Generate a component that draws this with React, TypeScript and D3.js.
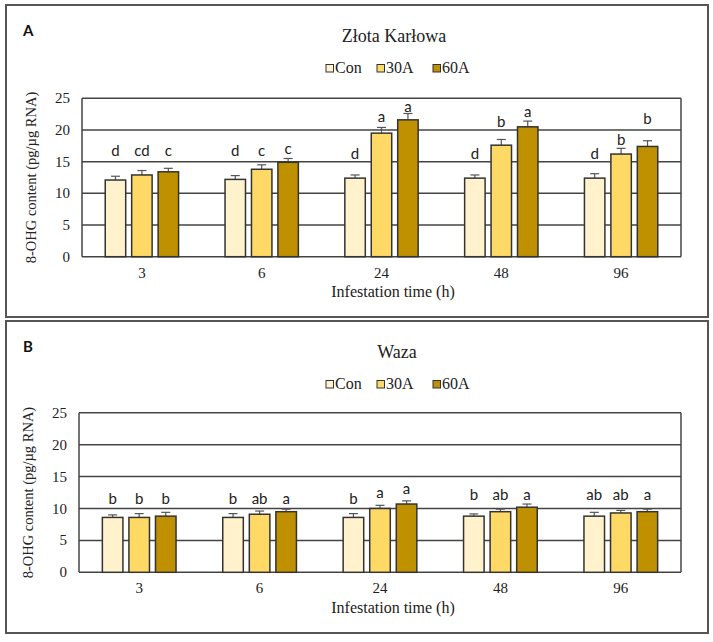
import React from "react";
import * as d3 from "d3";

const groups = ["3", "6", "24", "48", "96"];
const series = ["Con", "30A", "60A"];
const yTicks = [0, 5, 10, 15, 20, 25];
const colors = ["#FFF2CC", "#FFD966", "#BF9000"];

// Panel A – Złota Karłowa
const zkCon = [12.1, 12.2, 12.4, 12.4, 12.4];
const zk30A = [12.9, 13.8, 19.5, 17.6, 16.2];
const zk60A = [13.4, 14.9, 21.6, 20.5, 17.4];
const zkConSE = [0.6, 0.6, 0.5, 0.5, 0.7];
const zk30ASE = [0.7, 0.7, 0.9, 0.9, 0.9];
const zk60ASE = [0.55, 0.6, 1.0, 0.9, 0.9];
const zkConLet = ["d", "d", "d", "d", "d"];
const zk30ALet = ["cd", "c", "a", "b", "b"];
const zk60ALet = ["c", "c", "a", "a", "b"];
const zkConLetY = [15.9, 15.9, 15.4, 15.4, 15.4];
const zk30ALetY = [15.9, 15.9, 21.2, 20.4, 17.6];
const zk60ALetY = [15.9, 16.2, 22.9, 22.0, 20.9];

// Panel B – Waza
const wzCon = [8.6, 8.6, 8.6, 8.8, 8.8];
const wz30A = [8.6, 9.1, 10.0, 9.5, 9.3];
const wz60A = [8.8, 9.5, 10.7, 10.2, 9.5];
const wzConSE = [0.4, 0.6, 0.6, 0.35, 0.6];
const wz30ASE = [0.6, 0.5, 0.5, 0.4, 0.4];
const wz60ASE = [0.6, 0.4, 0.5, 0.5, 0.4];
const wzConLet = ["b", "b", "b", "b", "ab"];
const wz30ALet = ["b", "ab", "a", "ab", "ab"];
const wz60ALet = ["b", "a", "a", "a", "a"];
const wzConLetY = [10.7, 10.7, 10.7, 11.4, 11.4];
const wz30ALetY = [10.7, 10.7, 11.6, 11.4, 11.4];
const wz60ALetY = [10.7, 10.7, 12.3, 11.4, 11.4];

const SERIF = "'Liberation Serif', 'DejaVu Serif', serif";
const SANS = "Lato, 'Liberation Sans', sans-serif";

type PanelProps = {
  tag: string;
  title: string;
  titleX: number;
  top: number;
  plotLeft: number;
  plotTop: number;
  plotBottom: number;
  values: number[][];
  ses: number[][];
  letters: string[][];
  letterY: number[][];
};

function Panel(p: PanelProps) {
  const left = p.plotLeft;
  const right = 681;
  const x0 = d3
    .scaleBand<string>()
    .domain(groups)
    .range([left, right])
    .paddingInner(0.388)
    .paddingOuter(0.194);
  const x1 = d3
    .scaleBand<string>()
    .domain(series)
    .range([0, x0.bandwidth()])
    .paddingInner(0.226);
  const y = d3.scaleLinear().domain([0, 25]).range([p.plotBottom, p.plotTop]);
  const bw = x1.bandwidth();
  const legendX = [326, 377, 433];
  const T = p.top;
  return (
    <g>
      <rect x={6} y={T} width={702} height={312} fill="#fff" stroke="#555" strokeWidth={2} />
      <text x={23} y={T + 31} fontFamily={SANS} fontWeight={700} fontSize={15} fill="#111">
        {p.tag}
      </text>
      <text x={p.titleX} y={T + 36.5} textAnchor="middle" fontFamily={SERIF} fontSize={18} fill="#222">
        {p.title}
      </text>
      {series.map((s, i) => (
        <g key={s}>
          <rect x={legendX[i]} y={T + 59.5} width={7.5} height={7.5} fill={colors[i]} stroke="#333" strokeWidth={1} />
          <text x={legendX[i] + 9} y={T + 67.5} fontFamily={SERIF} fontSize={16} fill="#222">
            {s}
          </text>
        </g>
      ))}
      {/* gridlines */}
      {yTicks.map((t) => (
        <line key={t} x1={left} x2={right} y1={y(t)} y2={y(t)} stroke="#444" strokeWidth={1.5} />
      ))}
      <line x1={left} x2={left} y1={y(25)} y2={y(0)} stroke="#444" strokeWidth={1.5} />
      <line x1={right} x2={right} y1={y(25)} y2={y(0)} stroke="#444" strokeWidth={1.5} />
      {yTicks.map((t) => (
        <text key={t} x={left - 12} y={y(t) + 5} textAnchor="end" fontFamily={SERIF} fontSize={15} fill="#222">
          {t}
        </text>
      ))}
      <text
        transform={`translate(${left - 49},${(p.plotTop + p.plotBottom) / 2}) rotate(-90)`}
        textAnchor="middle"
        dominantBaseline="middle"
        fontFamily={SERIF}
        fontSize={14.5}
        fill="#222"
      >
        8-OHG content (pg/µg RNA)
      </text>
      {groups.map((g) => (
        <text key={g} x={(x0(g) as number) + x0.bandwidth() / 2} y={p.plotBottom + 21} textAnchor="middle" fontFamily={SERIF} fontSize={15} fill="#222">
          {g}
        </text>
      ))}
      <text x={393} y={T + 292} textAnchor="middle" fontFamily={SERIF} fontSize={16} fill="#222">
        Infestation time (h)
      </text>
      {groups.map((g, gi) => (
        <g key={g}>
          {series.map((s, si) => {
            const v = p.values[si][gi];
            const se = p.ses[si][gi];
            const bx = (x0(g) as number) + (x1(s) as number);
            const cx = bx + bw / 2;
            return (
              <g key={s}>
                <line x1={cx} x2={cx} y1={y(v)} y2={y(v + se)} stroke="#555" strokeWidth={1.2} />
                <line x1={cx - 4.5} x2={cx + 4.5} y1={y(v + se)} y2={y(v + se)} stroke="#555" strokeWidth={1.2} />
                <rect x={bx} y={y(v)} width={bw} height={y(0) - y(v)} fill={colors[si]} stroke="#333" strokeWidth={1.5} />
                <text x={cx} y={y(p.letterY[si][gi])} textAnchor="middle" fontFamily={SANS} fontSize={15} fill="#222">
                  {p.letters[si][gi]}
                </text>
              </g>
            );
          })}
        </g>
      ))}
    </g>
  );
}

export default function App() {
  return (
    <svg width={713} height={642} style={{ position: "absolute", left: 0, top: 0, background: "#fff" }}>
      <rect x={0} y={0} width={713} height={642} fill="#fff" />
      <Panel
        tag="A"
        title="Złota Karłowa"
        titleX={394}
        top={5}
        plotLeft={82}
        plotTop={98.3}
        plotBottom={256.7}
        values={[zkCon, zk30A, zk60A]}
        ses={[zkConSE, zk30ASE, zk60ASE]}
        letters={[zkConLet, zk30ALet, zk60ALet]}
        letterY={[zkConLetY, zk30ALetY, zk60ALetY]}
      />
      <Panel
        tag="B"
        title="Waza"
        titleX={397}
        top={321}
        plotLeft={79}
        plotTop={412.8}
        plotBottom={572.3}
        values={[wzCon, wz30A, wz60A]}
        ses={[wzConSE, wz30ASE, wz60ASE]}
        letters={[wzConLet, wz30ALet, wz60ALet]}
        letterY={[wzConLetY, wz30ALetY, wz60ALetY]}
      />
    </svg>
  );
}
